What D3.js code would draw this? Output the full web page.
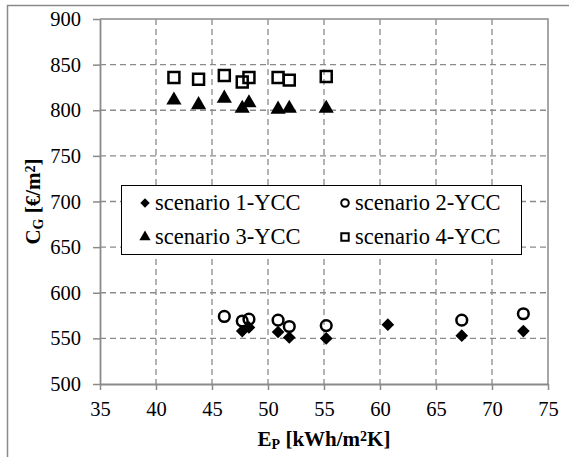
<!DOCTYPE html>
<html>
<head>
<meta charset="utf-8">
<script src="https://cdn.jsdelivr.net/npm/d3@7"></script>
<style>
    body { margin: 0; background: #fff; }
    svg text { font-family: "Times New Roman", "Liberation Serif", Tinos, Times, serif; fill: #000; }
</style>
</head>
<body>
<div id="chart"></div>
<script>
// scenario 1-YCC (diamonds)
const s1X = [47.7, 48.3, 50.9, 51.9, 55.2, 60.7, 67.3, 72.8];
const s1Y = [558, 562, 557, 551, 550, 565, 553, 558];
// scenario 2-YCC (open circles)
const s2X = [46.1, 47.7, 48.3, 50.9, 51.9, 55.2, 67.3, 72.8];
const s2Y = [574, 569, 571, 570, 563, 564, 570, 577];
// scenario 3-YCC (triangles)
const s3X = [41.6, 43.8, 46.1, 47.7, 48.3, 50.9, 51.9, 55.2];
const s3Y = [811, 806, 813, 802, 808, 801, 802, 802];
// scenario 4-YCC (open squares)
const s4X = [41.6, 43.8, 46.1, 47.7, 48.3, 50.9, 51.9, 55.2];
const s4Y = [836, 834, 838, 831, 836, 836, 833, 837];

const seriesNames = ['scenario 1-YCC', 'scenario 2-YCC', 'scenario 3-YCC', 'scenario 4-YCC'];
const xTicks = [35, 40, 45, 50, 55, 60, 65, 70, 75];
const yTicks = [500, 550, 600, 650, 700, 750, 800, 850, 900];

// ---------- SETUP ----------
const WIDTH = 569, HEIGHT = 457;
const MARGIN = { top: 19, right: 21, bottom: 73, left: 100 };
const gW = WIDTH - MARGIN.left - MARGIN.right;
const gH = HEIGHT - MARGIN.top - MARGIN.bottom;
const GREY = '#8a8a8a';
const FONT = '"Times New Roman", "Liberation Serif", Tinos, Times, serif';

const svg = d3.select('#chart').append('svg')
    .attr('width', WIDTH)
    .attr('height', HEIGHT)
    .style('font-family', FONT);

// outer chart frame (only top & left visible in crop)
svg.append('path')
    .attr('d', `M7.5,${HEIGHT} V5.5 H${WIDTH}`)
    .attr('fill', 'none')
    .attr('stroke', GREY)
    .attr('stroke-width', 1.5);

const g = svg.append('g')
    .attr('transform', `translate(${MARGIN.left},${MARGIN.top})`);

const x = d3.scaleLinear().domain([35, 75]).range([0, gW]);
const y = d3.scaleLinear().domain([500, 900]).range([gH, 0]);

// GRID
g.append('g').selectAll('line')
    .data(xTicks.slice(1, -1))
    .join('line')
    .attr('x1', d => x(d)).attr('x2', d => x(d))
    .attr('y1', 0).attr('y2', gH)
    .attr('stroke', GREY).attr('stroke-width', 1.3)
    .attr('stroke-dasharray', '6,4');

g.append('g').selectAll('line')
    .data(yTicks.slice(1, -1))
    .join('line')
    .attr('x1', 0).attr('x2', gW)
    .attr('y1', d => y(d)).attr('y2', d => y(d))
    .attr('stroke', GREY).attr('stroke-width', 1.3)
    .attr('stroke-dasharray', '6,4');

// plot area border (top, right)
g.append('path')
    .attr('d', `M0,0 H${gW} V${gH}`)
    .attr('fill', 'none')
    .attr('stroke', GREY)
    .attr('stroke-width', 1.5);

// AXES
const xAxis = g.append('g')
    .attr('transform', `translate(0,${gH})`)
    .call(d3.axisBottom(x).tickValues(xTicks).tickSizeInner(6).tickSizeOuter(0).tickPadding(11));

const yAxis = g.append('g')
    .call(d3.axisLeft(y).tickValues(yTicks).tickSizeInner(7).tickSizeOuter(0).tickPadding(12));

[xAxis, yAxis].forEach(a => {
    a.attr('font-family', null).attr('font-size', null);
    a.select('.domain').attr('stroke', GREY).attr('stroke-width', 1.8);
    a.selectAll('.tick line').attr('stroke', GREY).attr('stroke-width', 1.5);
    a.selectAll('.tick text')
        .style('font-family', FONT)
        .style('font-size', '20.5px')
        .attr('fill', '#000');
});

// MARKERS
const diamond = d3.symbol().type(d3.symbolSquare).size(80);
const circle = d3.symbol().type(d3.symbolCircle).size(90);
const triangle = d3.symbol().type(d3.symbolTriangle).size(100);
const square = d3.symbol().type(d3.symbolSquare).size(120);

const markerStyles = [
    { sym: diamond, fill: '#000', stroke: 'none', rot: 45 },
    { sym: circle, fill: 'none', stroke: '#000', rot: 0 },
    { sym: triangle, fill: '#000', stroke: 'none', rot: 0 },
    { sym: square, fill: 'none', stroke: '#000', rot: 0 },
];

const allSeries = [
    s1X.map((v, i) => ({ x: v, y: s1Y[i] })),
    s2X.map((v, i) => ({ x: v, y: s2Y[i] })),
    s3X.map((v, i) => ({ x: v, y: s3Y[i] })),
    s4X.map((v, i) => ({ x: v, y: s4Y[i] })),
];

allSeries.forEach((data, si) => {
    const st = markerStyles[si];
    g.append('g').selectAll('path')
        .data(data)
        .join('path')
        .attr('d', st.sym())
        .attr('transform', d => `translate(${x(d.x)},${y(d.y)}) rotate(${st.rot})`)
        .attr('fill', st.fill)
        .attr('stroke', st.stroke)
        .attr('stroke-width', 2.5);
});

// LEGEND
const leg = svg.append('g').attr('transform', 'translate(121,185)');
leg.append('rect')
    .attr('x', 0.5).attr('y', 0.5)
    .attr('width', 400).attr('height', 69)
    .attr('fill', '#fff')
    .attr('stroke', '#000')
    .attr('stroke-width', 1);

const legPos = [[24, 18], [224, 18], [24, 52], [224, 52]];
const legSyms = [
    d3.symbol().type(d3.symbolSquare).size(44),
    d3.symbol().type(d3.symbolCircle).size(45),
    d3.symbol().type(d3.symbolTriangle).size(55),
    d3.symbol().type(d3.symbolSquare).size(55),
];

seriesNames.forEach((name, i) => {
    const st = markerStyles[i];
    const [lx, ly] = legPos[i];
    leg.append('path')
        .attr('d', legSyms[i]())
        .attr('transform', `translate(${lx},${ly}) rotate(${st.rot})`)
        .attr('fill', st.fill)
        .attr('stroke', st.stroke)
        .attr('stroke-width', 2);
    leg.append('text')
        .attr('x', lx + 10)
        .attr('y', ly + 7)
        .style('font-size', '22.5px')
        .text(name);
});

// AXIS TITLES
const xt = svg.append('text')
    .attr('x', MARGIN.left + gW / 2)
    .attr('y', 446)
    .attr('text-anchor', 'middle')
    .style('font-size', '21px')
    .style('font-weight', 'bold');
xt.append('tspan').text('E');
xt.append('tspan').attr('baseline-shift', '-20%').style('font-size', '14px').text('P');
xt.append('tspan').text(' [kWh/m');
xt.append('tspan').attr('baseline-shift', '35%').style('font-size', '14px').text('2');
xt.append('tspan').text('K]');

const yt = svg.append('text')
    .attr('transform', `translate(40,${MARGIN.top + gH / 2}) rotate(-90)`)
    .attr('text-anchor', 'middle')
    .style('font-size', '21px')
    .style('font-weight', 'bold');
yt.append('tspan').text('C');
yt.append('tspan').attr('baseline-shift', '-20%').style('font-size', '14px').text('G');
yt.append('tspan').text(' [€/m');
yt.append('tspan').attr('baseline-shift', '35%').style('font-size', '14px').text('2');
yt.append('tspan').text(']');
</script>
</body>
</html>
